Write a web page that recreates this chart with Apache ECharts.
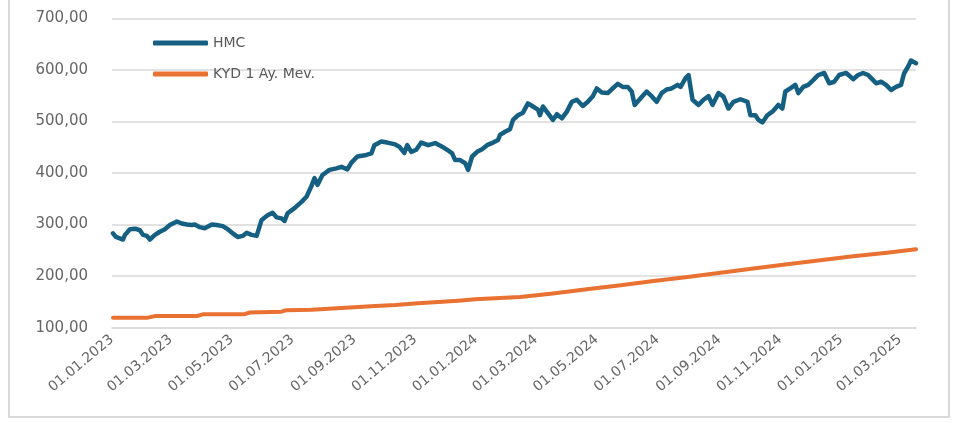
<!DOCTYPE html>
<html><head><meta charset="utf-8">
<script src="https://cdn.jsdelivr.net/npm/echarts@6/dist/echarts.min.js"></script>
<style>html,body{margin:0;padding:0;background:#fff;overflow:hidden}#c{width:958px;height:423px}</style>
</head><body><div id="c"></div>
<script>
const hmcDates = ['2023-01-02','2023-01-05','2023-01-12','2023-01-14','2023-01-19','2023-01-24','2023-01-29','2023-02-01','2023-02-05','2023-02-08','2023-02-13','2023-02-18','2023-02-23','2023-02-28','2023-03-07','2023-03-12','2023-03-17','2023-03-22','2023-03-25','2023-03-30','2023-04-04','2023-04-11','2023-04-16','2023-04-22','2023-04-27','2023-05-02','2023-05-07','2023-05-12','2023-05-16','2023-05-21','2023-05-26','2023-05-31','2023-06-06','2023-06-11','2023-06-15','2023-06-20','2023-06-23','2023-06-26','2023-07-03','2023-07-10','2023-07-15','2023-07-20','2023-07-23','2023-07-26','2023-07-31','2023-08-07','2023-08-14','2023-08-19','2023-08-25','2023-08-29','2023-09-04','2023-09-13','2023-09-18','2023-09-21','2023-09-28','2023-10-04','2023-10-11','2023-10-16','2023-10-21','2023-10-24','2023-10-28','2023-11-02','2023-11-07','2023-11-14','2023-11-21','2023-11-28','2023-12-03','2023-12-08','2023-12-11','2023-12-16','2023-12-21','2023-12-24','2023-12-28','2024-01-02','2024-01-07','2024-01-12','2024-01-18','2024-01-23','2024-01-25','2024-01-30','2024-02-04','2024-02-07','2024-02-12','2024-02-17','2024-02-22','2024-02-27','2024-03-03','2024-03-05','2024-03-08','2024-03-13','2024-03-18','2024-03-22','2024-03-27','2024-04-01','2024-04-06','2024-04-11','2024-04-17','2024-04-22','2024-04-27','2024-05-01','2024-05-06','2024-05-12','2024-05-17','2024-05-22','2024-05-27','2024-06-01','2024-06-05','2024-06-08','2024-06-13','2024-06-20','2024-06-25','2024-06-30','2024-07-05','2024-07-10','2024-07-15','2024-07-21','2024-07-24','2024-07-29','2024-08-01','2024-08-05','2024-08-11','2024-08-16','2024-08-21','2024-08-25','2024-08-31','2024-09-05','2024-09-10','2024-09-15','2024-09-22','2024-09-29','2024-10-02','2024-10-07','2024-10-10','2024-10-14','2024-10-19','2024-10-24','2024-10-30','2024-11-03','2024-11-06','2024-11-11','2024-11-16','2024-11-19','2024-11-24','2024-11-29','2024-12-04','2024-12-09','2024-12-15','2024-12-20','2024-12-25','2024-12-30','2025-01-06','2025-01-13','2025-01-18','2025-01-23','2025-01-28','2025-02-02','2025-02-05','2025-02-10','2025-02-15','2025-02-20','2025-02-25','2025-03-02','2025-03-05','2025-03-09','2025-03-12','2025-03-17'];
const hmcValues = [283,276,271,280,291,292,289,280,278,271,280,286,291,299,306,302,300,299,300,295,293,300,299,297,291,283,276,278,284,280,278,309,318,323,314,312,307,322,332,344,354,375,390,377,396,406,409,412,407,420,432,435,438,454,461,459,456,451,439,454,441,445,459,454,458,451,445,438,425,425,419,406,432,441,446,454,459,464,474,480,485,503,512,517,535,529,523,512,529,516,503,514,506,519,538,542,530,538,549,564,556,555,564,573,567,567,558,532,543,558,549,538,555,562,564,571,567,584,590,542,532,542,549,532,555,548,525,538,543,538,512,512,503,498,512,519,532,525,558,564,571,555,567,571,580,590,594,574,577,590,594,582,590,594,590,580,574,577,571,561,567,571,593,606,618,613];
const kydDates = ['2023-01-02','2023-02-06','2023-02-13','2023-03-28','2023-04-02','2023-05-14','2023-05-19','2023-06-20','2023-06-25','2023-07-20','2023-08-23','2023-09-22','2023-10-12','2023-11-04','2023-11-24','2023-12-14','2023-12-31','2024-01-20','2024-02-14','2024-03-18','2024-04-21','2024-05-25','2024-06-27','2024-07-31','2024-09-02','2024-10-05','2024-11-08','2024-12-11','2025-01-13','2025-02-16','2025-03-17'];
const kydValues = [119.4,119.5,122.5,122.8,126,126.3,129.5,131,134,135,138.8,142,144,147.3,149.8,152.4,155,157,159.5,166.5,174.5,182.5,190.5,198.5,206.7,215,223,231,238.5,245.5,252];
const tickDates = ['2023-01-01','2023-03-01','2023-05-01','2023-07-01','2023-09-01','2023-11-01','2024-01-01','2024-03-01','2024-05-01','2024-07-01','2024-09-01','2024-11-01','2025-01-01','2025-03-01'];
const seriesNames = ['HMC','KYD 1 Ay. Mev.'];
const yTicks = [100,200,300,400,500,600,700];

function toTs(s){const p=s.split('-').map(Number);return new Date(p[0],p[1]-1,p[2]).getTime();}
const hmc = hmcDates.map((d,i)=>[toTs(d),hmcValues[i]]);
const kyd = kydDates.map((d,i)=>[toTs(d),kydValues[i]]);
const pad=n=>String(n).padStart(2,'0');

const chart = echarts.init(document.getElementById('c'), null, {renderer:'canvas'});
chart.setOption({
  animation:false,
  backgroundColor:'#fff',
  graphic:[{type:'rect',z:100,silent:true,shape:{x:9,y:-10,width:940,height:427},style:{fill:'transparent',stroke:'#d9d9d9',lineWidth:2}}],
  grid:{left:112,right:42,top:18.3,bottom:95.3,containLabel:false,outerBoundsMode:'none'},
  legend:{orient:'vertical',left:148,top:31,itemWidth:55,itemHeight:5,itemGap:17,icon:'roundRect',
    textStyle:{color:'#595959',fontFamily:'DejaVu Sans',fontSize:14},data:seriesNames},
  xAxis:{type:'value',min:toTs('2023-01-01'),max:toTs('2025-03-17'),scale:true,
    axisLine:{show:true,lineStyle:{color:'#d9d9d9',width:1.5}},axisTick:{show:false},splitLine:{show:false},
    axisLabel:{customValues:tickDates.map(toTs),rotate:40,margin:10,color:'#666',fontFamily:'DejaVu Sans',fontSize:14,hideOverlap:false,showMinLabel:true,
      formatter:v=>{const d=new Date(v);return pad(d.getDate())+'.'+pad(d.getMonth()+1)+'.'+d.getFullYear();}}},
  yAxis:{type:'value',min:yTicks[0],max:yTicks[yTicks.length-1],interval:100,
    axisLine:{show:false},axisTick:{show:false},
    splitLine:{lineStyle:{color:'#d9d9d9',width:1.5}},
    axisLabel:{margin:24,color:'#666',fontFamily:'DejaVu Sans',fontSize:15,formatter:v=>v.toFixed(2).replace('.',',')}},
  series:[
    {name:seriesNames[0],type:'line',data:hmc,showSymbol:false,symbol:'none',lineStyle:{color:'#156082',width:4.5,join:'round',cap:'round'},itemStyle:{color:'#156082'}},
    {name:seriesNames[1],type:'line',data:kyd,showSymbol:false,symbol:'none',lineStyle:{color:'#E97132',width:4,join:'round',cap:'round'},itemStyle:{color:'#E97132'}}
  ]
});
</script></body></html>
